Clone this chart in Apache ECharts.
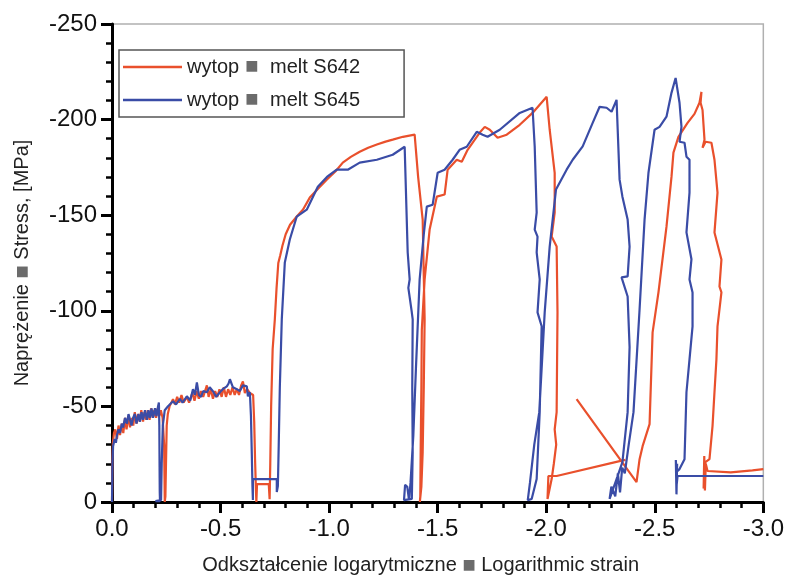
<!DOCTYPE html>
<html>
<head>
<meta charset="utf-8">
<script src="https://cdn.jsdelivr.net/npm/echarts@6/dist/echarts.min.js"></script>
<style>html,body{margin:0;padding:0;background:#fff;}#c{width:787px;height:580px;}</style>
</head>
<body>
<div id="c"></div>
<script>
// ---- tick labels ----
const xTickLabels = ['0.0', '-0.5', '-1.0', '-1.5', '-2.0', '-2.5', '-3.0'];
const yTickLabels = ['-250', '-200', '-150', '-100', '-50', '0'];

// ---- series S642 (red): [logarithmic strain, stress MPa] ----
const s642_stage1 = [[0,0],[-0.002,-22],[-0.004,-31],[-0.009,-36],[-0.015,-38],[-0.023,-33],[-0.03,-40],[-0.037,-35],[-0.045,-41],[-0.052,-36],[-0.06,-44],[-0.067,-38],[-0.075,-45],[-0.083,-39],[-0.09,-44],[-0.098,-40],[-0.105,-47],[-0.113,-41],[-0.12,-46],[-0.128,-42],[-0.135,-48],[-0.143,-42],[-0.15,-47],[-0.158,-43],[-0.165,-48],[-0.173,-43],[-0.18,-49],[-0.188,-44],[-0.195,-48],[-0.203,-44],[-0.21,-49],[-0.218,-45],[-0.225,-48],[-0.233,-44],[-0.238,-45],[-0.240,-30],[-0.242,-12],[-0.243,0]];
const s642_stage2 = [[-0.246,-3],[-0.249,-22],[-0.252,-40],[-0.257,-46],[-0.265,-50],[-0.281,-53.8],[-0.29,-51],[-0.30,-55],[-0.31,-52],[-0.32,-56],[-0.33,-52],[-0.345,-55],[-0.355,-52],[-0.37,-57],[-0.38,-53],[-0.39,-58],[-0.40,-54],[-0.41,-58],[-0.42,-55],[-0.437,-61],[-0.445,-55],[-0.455,-59],[-0.465,-54],[-0.475,-58],[-0.485,-55],[-0.495,-59],[-0.505,-55],[-0.515,-60],[-0.525,-55],[-0.535,-59],[-0.545,-56],[-0.555,-60],[-0.565,-56],[-0.575,-59],[-0.585,-56],[-0.595,-61],[-0.603,-63],[-0.612,-57],[-0.622,-59],[-0.635,-57],[-0.65,-56],[-0.655,-42],[-0.659,-22],[-0.663,-6],[-0.665,0],[-0.668,-9.4],[-0.722,-9.4],[-0.726,-1.5]];
const s642_stage3 = [[-0.729,-20],[-0.733,-50],[-0.74,-80],[-0.75,-95.5],[-0.758,-112],[-0.766,-125],[-0.775,-129],[-0.785,-134],[-0.80,-140],[-0.82,-145],[-0.851,-149.3],[-0.88,-153],[-0.911,-159.2],[-0.95,-164],[-0.989,-168.6],[-1.03,-173],[-1.063,-177.5],[-1.10,-180.5],[-1.141,-183.2],[-1.18,-185.3],[-1.220,-187],[-1.26,-188.5],[-1.293,-189.5],[-1.34,-191],[-1.394,-192.1],[-1.41,-170],[-1.431,-147.7],[-1.44,-95.5],[-1.436,-60],[-1.431,-26.1],[-1.425,-8],[-1.418,0]];
const s642_stage4 = [[-1.420,-3],[-1.422,-30],[-1.425,-60],[-1.427,-90],[-1.440,-116.4],[-1.463,-142.5],[-1.496,-159.7],[-1.532,-160.8],[-1.546,-173.8],[-1.588,-179],[-1.611,-178],[-1.638,-184.2],[-1.671,-189.5],[-1.693,-193.1],[-1.717,-196.2],[-1.740,-194.7],[-1.776,-190.5],[-1.818,-192.1],[-1.878,-197.3],[-1.937,-203.5],[-2.002,-211.9],[-2.016,-194.7],[-2.039,-172.2],[-2.039,-151.4],[-2.025,-138.8],[-2.048,-133.6],[-2.052,-99.2],[-2.048,-47],[-2.039,-38],[-2.046,-30],[-2.035,-20],[-2.025,-12],[-2.006,-1.6],[-2.010,-13.6],[-2.048,-13.6],[-2.338,-21.4],[-2.365,-22]];
const s642_stage5 = [[-2.140,-53.8],[-2.416,-10.4],[-2.430,-22.4],[-2.444,-29.2],[-2.476,-40.7],[-2.490,-88.7],[-2.517,-109.6],[-2.554,-144],[-2.577,-170],[-2.586,-182.7],[-2.609,-191],[-2.651,-198.3],[-2.683,-203],[-2.706,-208.8],[-2.715,-214.5],[-2.711,-208.8],[-2.720,-205],[-2.729,-189.5],[-2.720,-185.3],[-2.734,-188.4],[-2.761,-187.9],[-2.775,-179],[-2.789,-161.8],[-2.775,-140.9],[-2.807,-126.8],[-2.798,-112.7],[-2.807,-109.6],[-2.789,-91.9],[-2.784,-74.6],[-2.775,-57.4],[-2.766,-39.7],[-2.752,-22.4],[-2.733,-20.9],[-2.725,-7],[-2.728,-24],[-2.731,-6],[-2.735,-20],[-2.743,-16.2],[-2.85,-15.5],[-2.95,-16.5],[-3.0,-17.2]];

// ---- series S645 (blue) ----
const s645_stage1 = [[0,0],[-0.002,-20],[-0.005,-29.2],[-0.012,-33],[-0.018,-31],[-0.023,-35],[-0.03,-38],[-0.037,-36],[-0.045,-41],[-0.051,-39],[-0.06,-44],[-0.069,-41],[-0.076,-46],[-0.083,-43],[-0.09,-40],[-0.097,-44],[-0.105,-46],[-0.113,-41],[-0.122,-46],[-0.129,-42],[-0.136,-47],[-0.143,-43],[-0.152,-48],[-0.161,-43],[-0.168,-48],[-0.175,-44],[-0.182,-49],[-0.189,-44],[-0.198,-49],[-0.205,-45],[-0.212,-50],[-0.216,-52],[-0.218,-40],[-0.219,-20],[-0.220,-5],[-0.221,-0.5],[-0.200,-0.5],[-0.226,-1]];
const s645_stage2 = [[-0.229,-20],[-0.234,-40],[-0.243,-48],[-0.258,-50.1],[-0.281,-52.7],[-0.295,-51],[-0.313,-54],[-0.325,-52],[-0.345,-55.3],[-0.36,-53],[-0.373,-59],[-0.382,-56],[-0.391,-62.6],[-0.40,-56],[-0.41,-55],[-0.42,-58],[-0.437,-57.4],[-0.45,-60],[-0.465,-57.9],[-0.48,-55],[-0.497,-57.4],[-0.51,-59],[-0.529,-60.5],[-0.537,-62],[-0.543,-64.2],[-0.557,-60],[-0.575,-59],[-0.589,-58],[-0.603,-61],[-0.621,-60.5],[-0.626,-55.3],[-0.635,-57.4],[-0.640,-45],[-0.644,-25],[-0.647,-8],[-0.649,-1],[-0.649,-12],[-0.759,-12],[-0.759,-5.2],[-0.764,-8.4]];
const s645_stage3 = [[-0.768,-30],[-0.773,-60],[-0.782,-95.5],[-0.796,-125.3],[-0.819,-137.3],[-0.851,-149.3],[-0.897,-152.9],[-0.948,-164.9],[-0.99,-170],[-1.035,-173.8],[-1.086,-173.8],[-1.141,-177.5],[-1.220,-179],[-1.293,-181.6],[-1.348,-185.8],[-1.362,-130.5],[-1.371,-116.4],[-1.365,-112],[-1.380,-100],[-1.385,-95.5],[-1.383,-60],[-1.385,-26.1],[-1.381,-1.6],[-1.345,-1],[-1.35,-9],[-1.36,-8],[-1.368,-1]];
const s645_stage4 = [[-1.375,-10],[-1.388,-35],[-1.40,-70],[-1.408,-92],[-1.417,-116.4],[-1.436,-140],[-1.450,-154.5],[-1.477,-155.5],[-1.500,-172.2],[-1.532,-173.8],[-1.569,-179],[-1.601,-184.2],[-1.634,-185.8],[-1.680,-193.6],[-1.707,-192.1],[-1.730,-191],[-1.786,-194.7],[-1.878,-203.5],[-1.937,-206.2],[-1.947,-185.8],[-1.956,-151.4],[-1.947,-142.5],[-1.960,-138.8],[-1.956,-130.5],[-1.970,-116.4],[-1.960,-99.2],[-1.979,-91.9],[-1.970,-47],[-1.956,-12],[-1.933,-1.6],[-1.915,-1]];
const s645_stage5 = [[-1.925,-10],[-1.945,-30],[-1.968,-47],[-1.993,-99.2],[-2.016,-133.6],[-2.045,-163.4],[-2.094,-173.8],[-2.122,-179],[-2.168,-186],[-2.214,-198.3],[-2.246,-206.7],[-2.278,-206.2],[-2.301,-204.1],[-2.324,-210.3],[-2.338,-168.6],[-2.351,-159.7],[-2.375,-147.7],[-2.384,-133.6],[-2.375,-118],[-2.347,-117.5],[-2.375,-107.5],[-2.384,-81],[-2.375,-47],[-2.351,-20.9],[-2.324,-12],[-2.292,-1.6],[-2.30,-8],[-2.318,-3],[-2.33,-15],[-2.34,-5],[-2.35,-18]];
const s645_stage6 = [[-2.362,-15],[-2.38,-30],[-2.402,-47],[-2.430,-100.7],[-2.453,-147.7],[-2.471,-172.2],[-2.499,-194.7],[-2.522,-196.2],[-2.554,-201.5],[-2.577,-214],[-2.596,-221.8],[-2.614,-208.8],[-2.623,-196.2],[-2.614,-188.4],[-2.637,-187.9],[-2.646,-180.6],[-2.660,-179],[-2.660,-161.8],[-2.646,-141],[-2.669,-127],[-2.660,-116.4],[-2.674,-109.6],[-2.674,-91.9],[-2.660,-74.6],[-2.646,-57.4],[-2.637,-22.4],[-2.614,-17.2],[-2.600,-15.7],[-2.597,-22],[-2.600,-4],[-2.603,-20],[-2.600,-8],[-2.605,-13.6],[-2.8,-13.6],[-3.0,-13.6]];

const redName = 'S642';
const blueName = 'S645';
const RED = '#e9502c';
const BLUE = '#3a4ca6';
const FONT = 'Liberation Sans, Arial, sans-serif';

const redPath1 = [].concat(s642_stage1, s642_stage2, s642_stage3, s642_stage4);
const redPath2 = s642_stage5;
const bluePath = [].concat(s645_stage1, s645_stage2, s645_stage3, s645_stage4, s645_stage5, s645_stage6);

function lineSeries(name, data, color) {
  return { name: name, type: 'line', data: data, showSymbol: false, symbol: 'none',
    lineStyle: { color: color, width: 2.2 }, itemStyle: { color: color }, z: 3, animation: false };
}

const sqStyle = { fontSize: 14, color: '#6b6b6b', fontFamily: 'DejaVu Sans' };

const chart = echarts.init(document.getElementById('c'), null, { renderer: 'canvas' });
chart.setOption({
  animation: false,
  backgroundColor: '#ffffff',
  grid: { left: 112, right: 23, top: 24, bottom: 77, show: true, borderColor: '#b0b0b0', borderWidth: 1.5, containLabel: false },
  legend: {
    data: [redName, blueName],
    left: 119, top: 50, orient: 'vertical',
    backgroundColor: '#ffffff', borderColor: '#555555', borderWidth: 1.5, borderRadius: 0,
    padding: [7, 44, 7, 4], itemGap: 13, itemWidth: 59, itemHeight: 2.5, icon: 'rect',
    textStyle: { fontSize: 20, color: '#222', fontFamily: FONT,
      rich: { sq: Object.assign({ padding: [0, 6, 2, 6] }, sqStyle) } },
    formatter: function (n) { return 'wytop{sq|■} melt ' + n; }
  },
  xAxis: {
    type: 'value', min: -3, max: 0, interval: 0.5, inverse: true,
    name: 'Odkształcenie logarytmiczne {sq|■} Logarithmic strain',
    nameLocation: 'middle', nameGap: 53,
    nameTextStyle: { fontSize: 20, color: '#222', fontFamily: FONT, padding: [0, 34, 0, 0], rich: { sq: sqStyle } },
    axisLine: { show: true, onZero: false, lineStyle: { color: '#000', width: 3 } },
    axisTick: { show: true, inside: false, length: 11, lineStyle: { color: '#000', width: 3 } },
    minorTick: { show: true, splitNumber: 5, length: 6, lineStyle: { color: '#000', width: 2.5 } },
    splitLine: { show: false },
    axisLabel: { fontSize: 24, color: '#111', fontFamily: FONT, margin: 15,
      formatter: function (v) { const i = Math.round(-v / 0.5); return xTickLabels[i]; } }
  },
  yAxis: {
    type: 'value', min: -250, max: 0, interval: 50, inverse: true,
    name: 'Naprężenie {sq|■} Stress, [MPa]',
    nameLocation: 'middle', nameGap: 80, nameRotate: 90,
    nameTextStyle: { fontSize: 20, color: '#222', fontFamily: FONT, rich: { sq: sqStyle } },
    axisLine: { show: true, onZero: false, lineStyle: { color: '#000', width: 3 } },
    axisTick: { show: true, inside: false, length: 11, lineStyle: { color: '#000', width: 3 } },
    minorTick: { show: true, splitNumber: 5, length: 6, lineStyle: { color: '#000', width: 2.5 } },
    splitLine: { show: false },
    axisLabel: { fontSize: 24, color: '#111', fontFamily: FONT, margin: 15,
      formatter: function (v) { const i = Math.round((v + 250) / 50); return yTickLabels[i]; } }
  },
  series: [
    lineSeries(redName, redPath1, RED),
    lineSeries(redName, redPath2, RED),
    lineSeries(blueName, bluePath, BLUE)
  ]
});
</script>
</body>
</html>
